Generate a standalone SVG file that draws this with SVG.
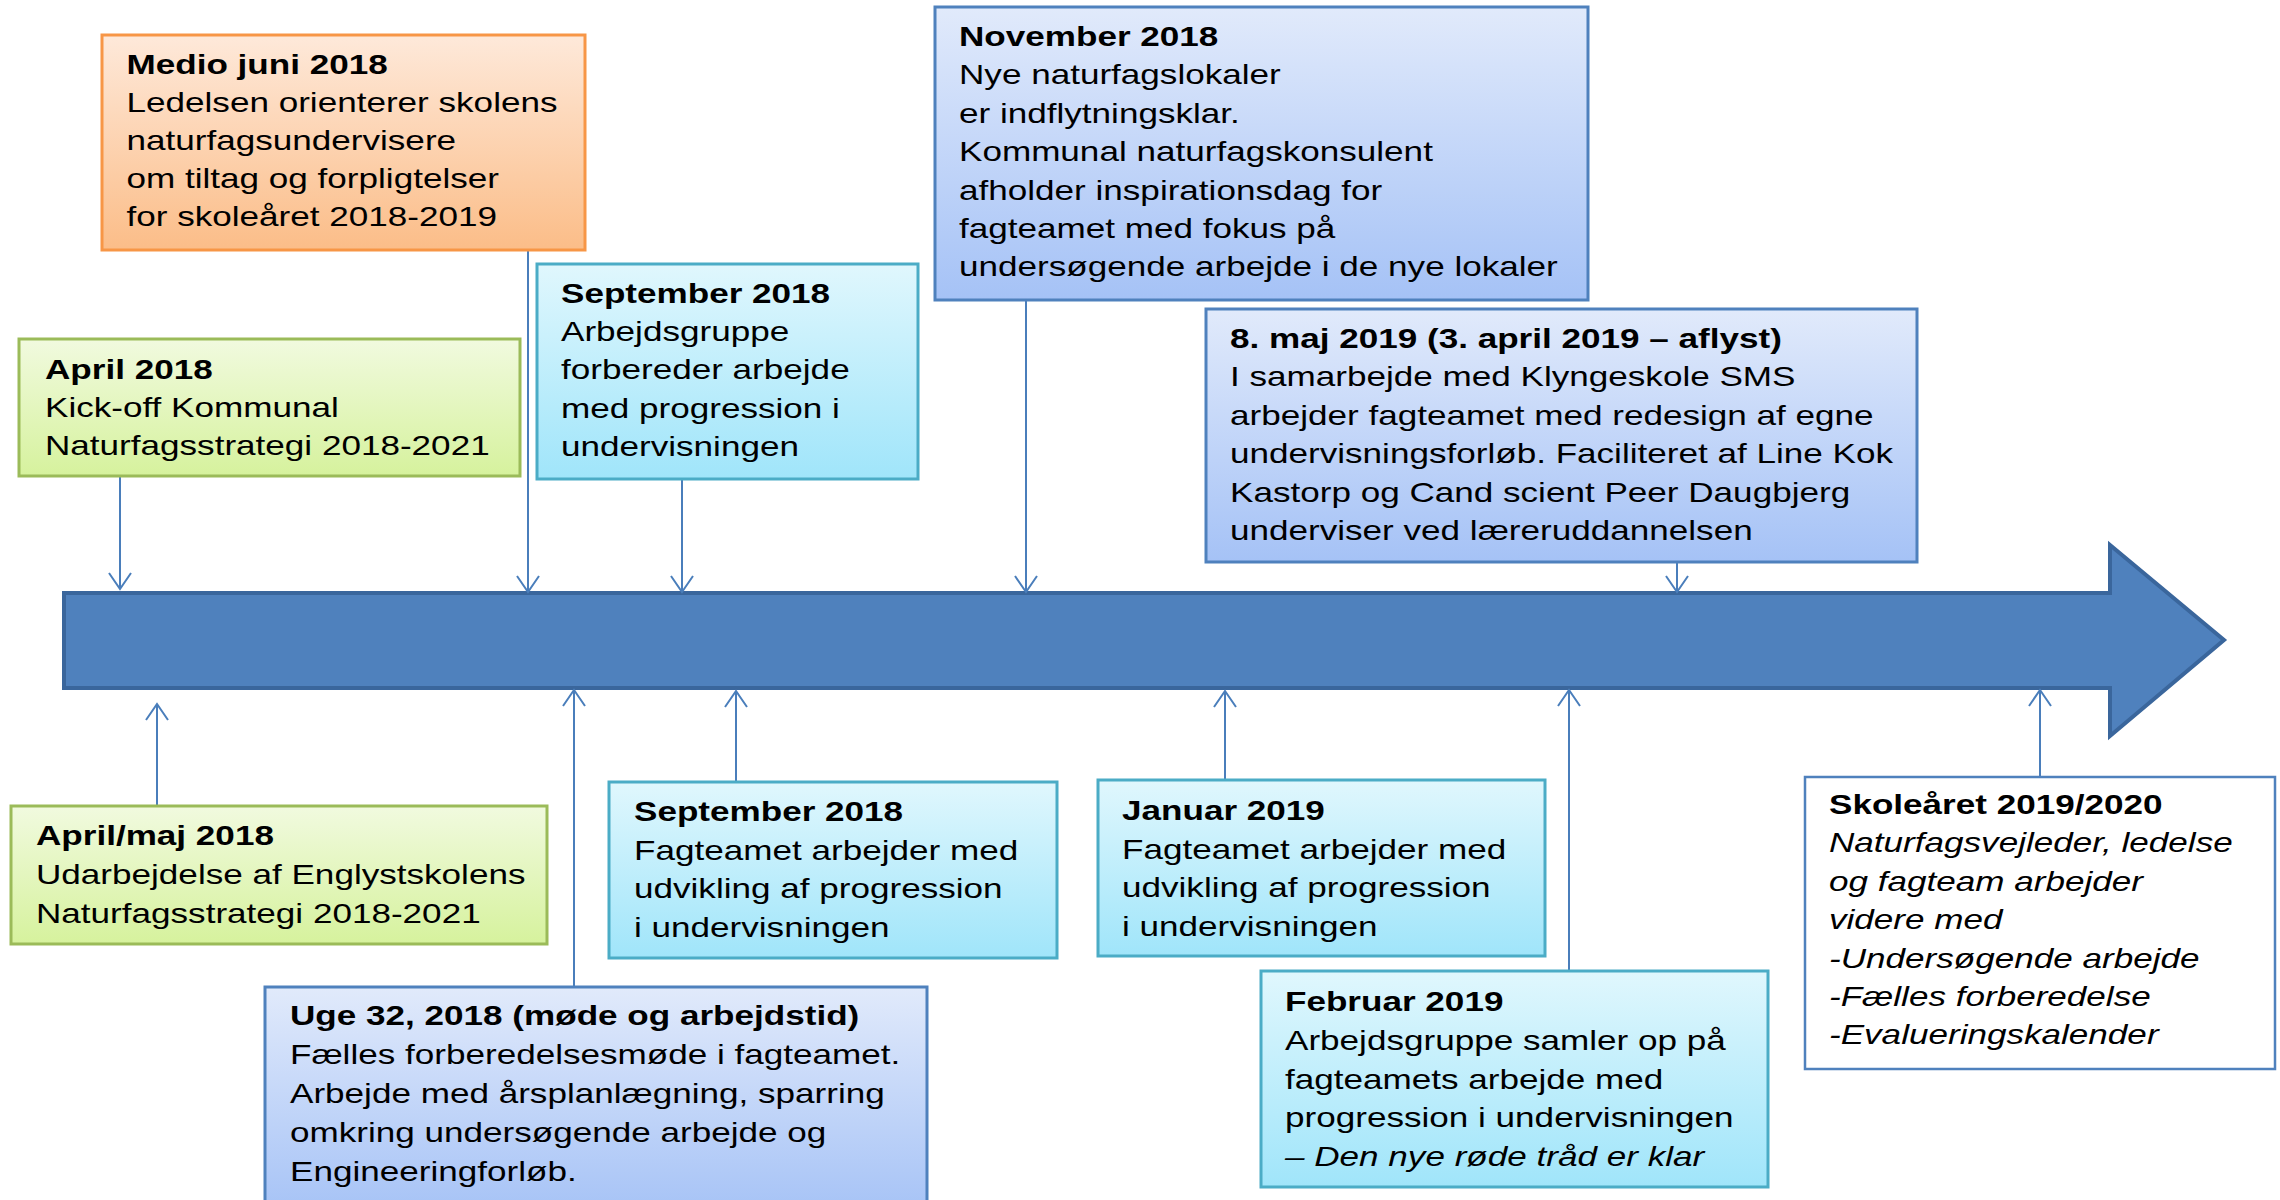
<svg xmlns="http://www.w3.org/2000/svg" width="2280" height="1200" viewBox="0 0 2280 1200">
<defs>
<linearGradient id="gOrange" x1="0" y1="0" x2="0" y2="1"><stop offset="0" stop-color="#FEE9DA"/><stop offset="1" stop-color="#FBBD88"/></linearGradient>
<linearGradient id="gGreen" x1="0" y1="0" x2="0" y2="1"><stop offset="0" stop-color="#F1FADF"/><stop offset="1" stop-color="#D6F29D"/></linearGradient>
<linearGradient id="gCyan" x1="0" y1="0" x2="0" y2="1"><stop offset="0" stop-color="#E0F7FD"/><stop offset="1" stop-color="#A0E5FA"/></linearGradient>
<linearGradient id="gBlue" x1="0" y1="0" x2="0" y2="1"><stop offset="0" stop-color="#E1EAFB"/><stop offset="1" stop-color="#A5C2F6"/></linearGradient>
<marker id="open" markerUnits="userSpaceOnUse" markerWidth="20" markerHeight="26" refX="17" refY="0" viewBox="0 -13 20 26" orient="auto" overflow="visible">
<path d="M1,-11 L17,0 L1,11" fill="none" stroke="#4A7EBB" stroke-width="2"/>
</marker>
</defs>
<style>
.box{stroke-width:3}
.orange{fill:url(#gOrange);stroke:#F79646}
.green{fill:url(#gGreen);stroke:#9BBB59}
.cyan{fill:url(#gCyan);stroke:#4BACC6}
.blue{fill:url(#gBlue);stroke:#4F81BD}
.white{fill:#FFFFFF;stroke:#4F81BD;stroke-width:2.5}
text{font-family:"Liberation Sans",Arial,sans-serif;font-size:27px;fill:#000}
.t{font-weight:bold}
.i{font-style:italic}
.conn line{stroke:#4A7EBB;stroke-width:2;marker-end:url(#open)}
</style>
<rect width="2280" height="1200" fill="#FFFFFF"/>

<g id="timeline">
<polygon points="64,593 2110,593 2110,545 2224,640 2110,736 2110,688 64,688" fill="#4F81BD" stroke="#3A669C" stroke-width="4" stroke-linejoin="miter"/>
</g>

<g id="connectors" class="conn">
<line x1="120" y1="476" x2="120" y2="589"/>
<line x1="528" y1="250" x2="528" y2="592"/>
<line x1="682" y1="479" x2="682" y2="592"/>
<line x1="1026" y1="300" x2="1026" y2="592"/>
<line x1="1677" y1="562" x2="1677" y2="592"/>
<line x1="157" y1="806" x2="157" y2="704"/>
<line x1="574" y1="987" x2="574" y2="690"/>
<line x1="736" y1="782" x2="736" y2="691"/>
<line x1="1225" y1="780" x2="1225" y2="691"/>
<line x1="1569" y1="971" x2="1569" y2="690"/>
<line x1="2040" y1="777" x2="2040" y2="690"/>
</g>

<g id="medio-juni-2018">
<rect class="box orange" x="102" y="35" width="483" height="215"/>
<text transform="translate(126.5,74) scale(1.3,1)"><tspan class="t" x="0" y="0">Medio juni 2018</tspan><tspan x="0" y="38">Ledelsen orienterer skolens</tspan><tspan x="0" y="76">naturfagsundervisere</tspan><tspan x="0" y="114">om tiltag og forpligtelser</tspan><tspan x="0" y="152">for skoleåret 2018-2019</tspan></text>
</g>

<g id="april-2018">
<rect class="box green" x="19" y="339" width="501" height="137"/>
<text transform="translate(45,379) scale(1.3,1)"><tspan class="t" x="0" y="0">April 2018</tspan><tspan x="0" y="38">Kick-off Kommunal</tspan><tspan x="0" y="76">Naturfagsstrategi 2018-2021</tspan></text>
</g>

<g id="september-2018-a">
<rect class="box cyan" x="537" y="264" width="381" height="215"/>
<text transform="translate(561,302.5) scale(1.3,1)"><tspan class="t" x="0" y="0">September 2018</tspan><tspan x="0" y="38.5">Arbejdsgruppe</tspan><tspan x="0" y="77">forbereder arbejde</tspan><tspan x="0" y="115.5">med progression i</tspan><tspan x="0" y="154">undervisningen</tspan></text>
</g>

<g id="november-2018">
<rect class="box blue" x="935" y="7" width="653" height="293"/>
<text transform="translate(959,46) scale(1.3,1)"><tspan class="t" x="0" y="0">November 2018</tspan><tspan x="0" y="38.4">Nye naturfagslokaler</tspan><tspan x="0" y="76.8">er indflytningsklar.</tspan><tspan x="0" y="115.2">Kommunal naturfagskonsulent</tspan><tspan x="0" y="153.6">afholder inspirationsdag for</tspan><tspan x="0" y="192">fagteamet med fokus på</tspan><tspan x="0" y="230.4">undersøgende arbejde i de nye lokaler</tspan></text>
</g>

<g id="maj-2019">
<rect class="box blue" x="1206" y="309" width="711" height="253"/>
<text transform="translate(1230,348) scale(1.3,1)"><tspan class="t" x="0" y="0">8. maj 2019 (3. april 2019 – aflyst)</tspan><tspan x="0" y="38.4">I samarbejde med Klyngeskole SMS</tspan><tspan x="0" y="76.8">arbejder fagteamet med redesign af egne</tspan><tspan x="0" y="115.2">undervisningsforløb. Faciliteret af Line Kok</tspan><tspan x="0" y="153.6">Kastorp og Cand scient Peer Daugbjerg</tspan><tspan x="0" y="192">underviser ved læreruddannelsen</tspan></text>
</g>

<g id="april-maj-2018">
<rect class="box green" x="11" y="806" width="536" height="138"/>
<text transform="translate(36,845) scale(1.3,1)"><tspan class="t" x="0" y="0">April/maj 2018</tspan><tspan x="0" y="39">Udarbejdelse af Englystskolens</tspan><tspan x="0" y="78">Naturfagsstrategi 2018-2021</tspan></text>
</g>

<g id="uge-32-2018">
<rect class="box blue" x="265" y="987" width="662" height="230"/>
<text transform="translate(290,1025) scale(1.3,1)"><tspan class="t" x="0" y="0">Uge 32, 2018 (møde og arbejdstid)</tspan><tspan x="0" y="39">Fælles forberedelsesmøde i fagteamet.</tspan><tspan x="0" y="78">Arbejde med årsplanlægning, sparring</tspan><tspan x="0" y="117">omkring undersøgende arbejde og</tspan><tspan x="0" y="156">Engineeringforløb.</tspan></text>
</g>

<g id="september-2018-b">
<rect class="box cyan" x="609" y="782" width="448" height="176"/>
<text transform="translate(634,821) scale(1.3,1)"><tspan class="t" x="0" y="0">September 2018</tspan><tspan x="0" y="38.7">Fagteamet arbejder med</tspan><tspan x="0" y="77.4">udvikling af progression</tspan><tspan x="0" y="116.1">i undervisningen</tspan></text>
</g>

<g id="januar-2019">
<rect class="box cyan" x="1098" y="780" width="447" height="176"/>
<text transform="translate(1122,820) scale(1.3,1)"><tspan class="t" x="0" y="0">Januar 2019</tspan><tspan x="0" y="38.7">Fagteamet arbejder med</tspan><tspan x="0" y="77.4">udvikling af progression</tspan><tspan x="0" y="116.1">i undervisningen</tspan></text>
</g>

<g id="februar-2019">
<rect class="box cyan" x="1261" y="971" width="507" height="216"/>
<text transform="translate(1285,1011) scale(1.3,1)"><tspan class="t" x="0" y="0">Februar 2019</tspan><tspan x="0" y="38.8">Arbejdsgruppe samler op på</tspan><tspan x="0" y="77.6">fagteamets arbejde med</tspan><tspan x="0" y="116.4">progression i undervisningen</tspan><tspan class="i" x="0" y="155.2">– Den nye røde tråd er klar</tspan></text>
</g>

<g id="skoleaaret-2019-2020">
<rect class="white" x="1805" y="777" width="470" height="292"/>
<text transform="translate(1829,814) scale(1.3,1)"><tspan class="t" x="0" y="0">Skoleåret 2019/2020</tspan><tspan class="i" x="0" y="38.4">Naturfagsvejleder, ledelse</tspan><tspan class="i" x="0" y="76.8">og fagteam arbejder</tspan><tspan class="i" x="0" y="115.2">videre med</tspan><tspan class="i" x="0" y="153.6">-Undersøgende arbejde</tspan><tspan class="i" x="0" y="192">-Fælles forberedelse</tspan><tspan class="i" x="0" y="230.4">-Evalueringskalender</tspan></text>
</g>
</svg>
